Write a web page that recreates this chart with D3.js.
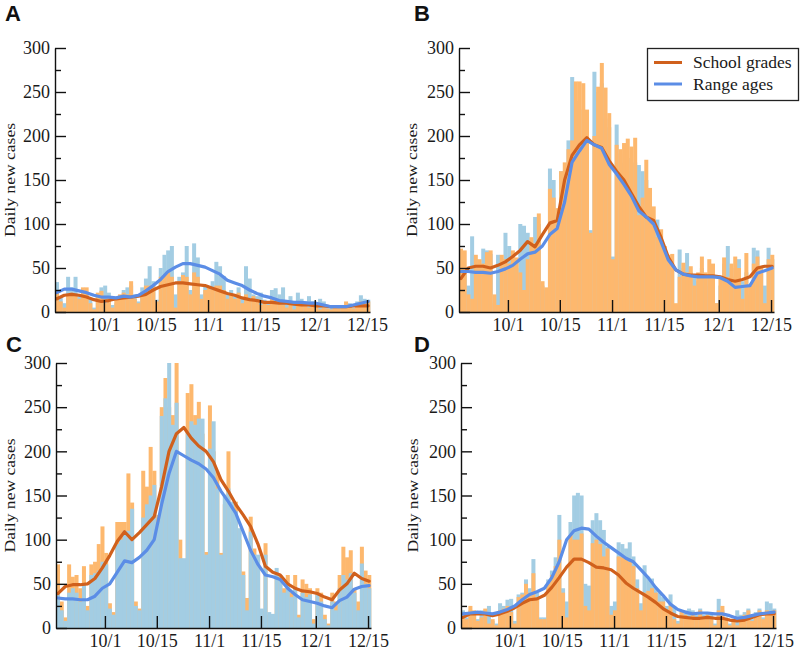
<!DOCTYPE html>
<html><head><meta charset="utf-8">
<script src="https://cdn.jsdelivr.net/npm/d3@7"></script>
<style>body{margin:0;background:#fff}</style>
</head><body><svg id="c" width="800" height="654"></svg>
<script>
// ---------- DATA ----------
const days = d3.range(85);            // daily index, 9/18 .. 12/11
const lineDays = d3.range(0, 85, 2);  // sampled days of the smoothed curves
const xTickDays = [13.2, 27.2, 41.3, 55.3, 70.1, 84.2];
const xTickLabels = ["10/1", "10/15", "11/1", "11/15", "12/1", "12/15"];
const yTicks = [0, 50, 100, 150, 200, 250, 300];
const yMinorTicks = [25, 75, 125, 175, 225, 275];
const seriesNames = ["School grades", "Range ages"];
const panelLetters = ["A", "B", "C", "D"];

// Panel A
const schoolA = [25,12,5,20,22,20,15,28,28,10, 3,22,24,10,18,5,15,20,22,20, 35,15,10,20,30,30,30,12,40,42, 45,40,5,35,42,40,20,45,40,15, 25,28,25,30,30,25,15,20,15,22, 10,20,15,18,12,8,10,8,15,12, 10,8,5,10,3,8,10,8,5,10, 8,3,5,4,3,5,4,6,12,8, 4,10,12,10,12];
const rangeA  = [34,18,10,40,28,40,20,25,22,15, 5,20,28,30,22,8,10,18,25,28, 30,20,12,28,38,52,35,14,50,65, 70,75,20,40,45,75,25,78,62,20, 30,22,35,57,52,41,20,25,18,28, 15,52,38,20,18,22,14,10,25,27, 20,28,12,18,8,22,15,12,18,12, 10,15,12,6,5,6,6,8,8,10, 5,12,19,15,14];
const schoolLineA = [15,19,20,19,17,14,12,13,15,16,17,18,20,25,29,31,33,33,32,31,30,27,24,21,19,16,14,13,11,11,10,10,9,8,8,7,7,6,6,6,7,7,7];
const rangeLineA  = [22,26,26,24,22,19,17,17,16,18,17,19,24,30,37,46,51,55,55,53,51,47,43,36,33,30,25,21,18,16,13,12,11,11,10,10,8,6,6,6,8,10,12];

// Panel B
const schoolB = [72,70,20,15,65,60,55,68,70,20, 8,65,60,55,70,62,45,25,60,85, 78,112,35,28,140,130,118,160,170,185, 195,262,262,260,230,90,200,256,283,255, 226,60,190,185,192,197,188,198,110,130, 173,141,120,85,94,75,65,66,10,40, 56,45,52,30,45,63,45,60,55,10, 40,62,40,55,63,50,15,67,30,55, 63,50,10,60,65];
const rangeB  = [50,45,30,86,60,55,72,70,66,10, 65,60,90,75,60,50,100,98,90,75, 108,100,30,25,163,150,110,160,160,195, 267,240,230,200,210,93,273,250,260,220, 210,63,213,180,170,175,160,170,167,160, 150,125,105,105,80,70,55,50,8,71, 50,67,45,40,35,50,30,40,45,10, 30,55,75,50,40,60,35,45,20,73, 70,45,30,73,60];
const schoolLineB = [38,50,52,52,50,53,57,63,70,80,74,88,101,104,150,178,190,198,190,187,172,160,150,135,120,108,104,85,62,48,43,42,42,41,41,40,37,35,37,40,50,52,52];
const rangeLineB  = [46,46,45,45,44,46,49,53,60,66,68,75,88,95,125,170,183,195,190,186,168,157,145,132,115,108,100,80,59,48,43,41,40,40,40,39,35,28,29,30,44,47,50];

// Panel C
const schoolC = [72,30,12,72,58,60,45,70,25,72, 75,95,115,85,28,18,120,120,120,175, 142,30,22,178,160,205,178,128,250,283, 250,241,300,100,75,266,276,241,256,220, 86,252,200,177,85,140,200,120,143,100, 64,34,126,90,80,20,96,15,12,60, 60,45,60,40,60,15,55,50,45,10, 45,40,15,5,40,30,60,92,80,88, 45,30,92,65,60];
const rangeC  = [38,20,8,40,45,40,30,50,20,60, 62,65,75,72,22,15,95,100,110,110, 135,25,20,125,140,150,162,120,240,260, 300,230,255,79,79,222,234,230,237,237, 83,203,234,158,83,151,158,143,132,113, 60,20,109,83,83,22,83,18,16,68, 55,40,50,35,45,12,40,35,38,5, 38,30,10,3,30,20,45,60,55,62, 40,20,73,50,45];
const schoolLineC = [39,47,49,49,50,56,68,82,98,109,100,108,117,126,160,200,220,227,215,206,200,188,168,155,140,128,115,95,70,63,60,50,45,42,41,39,35,32,43,50,62,56,53];
const rangeLineC  = [34,33,33,32,32,36,45,50,63,76,74,80,88,100,140,175,200,195,190,186,180,170,155,143,130,109,88,72,60,58,55,45,38,32,30,28,25,23,31,35,44,47,48];

// Panel D
const schoolD = [12,10,25,20,8,12,22,5,10,3, 20,22,25,18,5,35,38,50,40,62, 35,10,10,50,60,70,100,40,12,105, 100,100,107,25,20,96,100,95,81,90, 15,20,81,80,78,75,70,45,20,40, 42,45,40,30,30,20,25,10,5,20, 15,12,18,10,20,12,15,12,3,20, 25,10,3,8,3,12,15,20,8,15, 20,10,20,18,20];
const rangeD  = [20,12,20,18,10,20,20,25,8,5, 28,25,32,33,8,38,40,55,45,78, 40,12,12,55,65,80,128,45,30,120, 150,153,150,50,48,122,130,122,111,92, 25,30,97,95,90,97,81,55,28,71, 58,56,45,40,35,25,38,25,8,18, 20,22,20,15,22,15,18,15,5,33, 20,12,5,10,20,15,18,22,10,18, 22,12,30,28,22];
const schoolLineD = [12,16,16,16,14,16,19,23,28,32,33,37,46,57,69,78,78,74,69,68,66,60,51,45,40,35,29,22,17,13,12,11,11,12,11,11,9,8,9,12,15,16,16];
const rangeLineD  = [16,17,18,17,16,18,21,25,32,38,41,45,57,75,100,110,113,112,104,97,91,85,79,75,66,57,46,37,27,21,18,16,17,17,16,16,14,11,12,14,16,17,18];

// ---------- STYLE / LAYOUT ----------
const C = {
  schoolBar: "#fdb86e", rangeBar: "#a3cde3",
  schoolLine: "#d0601c", rangeLine: "#5b8de6"
};
const serif = "'Liberation Serif','Times New Roman',serif";
const panels = [
  {letter: panelLetters[0], school: schoolA, range: rangeA, sLine: schoolLineA, rLine: rangeLineA, left: 55,  top: 48,  bottom: 312, front: "school", titleX: 14.5, lx: 5,   ly: 21},
  {letter: panelLetters[1], school: schoolB, range: rangeB, sLine: schoolLineB, rLine: rangeLineB, left: 459, top: 48,  bottom: 312, front: "school", titleX: 417,  lx: 414, ly: 21, legend: true},
  {letter: panelLetters[2], school: schoolC, range: rangeC, sLine: schoolLineC, rLine: rangeLineC, left: 56,  top: 363, bottom: 628, front: "range",  titleX: 14.5, lx: 6,   ly: 352},
  {letter: panelLetters[3], school: schoolD, range: rangeD, sLine: schoolLineD, rLine: rangeLineD, left: 461, top: 363, bottom: 628, front: "school", titleX: 418,  lx: 414, ly: 352}
];
const plotW = 315;

const svg = d3.select("#c");
svg.append("rect").attr("width", 800).attr("height", 654).attr("fill", "#fff");

panels.forEach(p => {
  const g = svg.append("g");
  const x = d3.scaleLinear().domain([0, 85]).range([p.left, p.left + plotW]);
  const y = d3.scaleLinear().domain([0, 300]).range([p.bottom, p.top]);

  const order = p.front === "school"
    ? [{v: p.range, c: C.rangeBar}, {v: p.school, c: C.schoolBar}]
    : [{v: p.school, c: C.schoolBar}, {v: p.range, c: C.rangeBar}];
  order.forEach(s => {
    g.append("g").selectAll("rect").data(days).join("rect")
      .attr("x", d => x(d))
      .attr("width", d => x(d + 1) - x(d) + 0.3)
      .attr("y", d => y(s.v[d]))
      .attr("height", d => y(0) - y(s.v[d]))
      .attr("fill", s.c);
  });

  [{v: p.sLine, c: C.schoolLine}, {v: p.rLine, c: C.rangeLine}].forEach(s => {
    const ln = d3.line().x(d => x(d + 0.5)).y((d, i) => y(s.v[i]));
    g.append("path").attr("d", ln(lineDays))
      .attr("fill", "none").attr("stroke", s.c).attr("stroke-width", 3.2)
      .attr("stroke-linejoin", "round").attr("stroke-linecap", "round");
  });

  // y axis
  g.append("g").attr("transform", `translate(${p.left},0)`)
    .call(d3.axisLeft(y).tickValues(yTicks).tickSize(-11).tickSizeOuter(0).tickPadding(5));
  g.append("g").attr("transform", `translate(${p.left},0)`)
    .call(d3.axisLeft(y).tickValues(yMinorTicks).tickSize(-6).tickFormat("")).select(".domain").remove();
  // x axis
  g.append("g").attr("transform", `translate(0,${p.bottom})`)
    .call(d3.axisBottom(x).tickValues(xTickDays).tickFormat((d, i) => xTickLabels[i])
      .tickSize(-12).tickSizeOuter(0).tickPadding(6));
  g.selectAll(".domain, .tick line").attr("stroke", "#111").attr("stroke-width", 1.4);
  g.selectAll(".tick text").attr("font-family", serif).attr("font-size", 18).attr("fill", "#1a1a1a");

  // y title
  g.append("text")
    .attr("transform", `translate(${p.titleX},${(p.top + p.bottom) / 2}) rotate(-90)`)
    .attr("text-anchor", "middle").attr("font-family", serif).attr("font-size", 14.5)
    .attr("textLength", 114).attr("lengthAdjust", "spacingAndGlyphs")
    .attr("fill", "#1a1a1a").text("Daily new cases");

  // panel letter
  svg.append("text").attr("x", p.lx).attr("y", p.ly)
    .attr("font-family", "'Liberation Sans',Arial,sans-serif").attr("font-weight", "bold")
    .attr("font-size", 22).attr("fill", "#111").text(p.letter);

  if (p.legend) {
    const lg = svg.append("g");
    lg.append("rect").attr("x", 647.5).attr("y", 48.5).attr("width", 151).attr("height", 52)
      .attr("fill", "#fff").attr("stroke", "#222").attr("stroke-width", 1.3);
    [C.schoolLine, C.rangeLine].forEach((c, i) => {
      const yy = 62.5 + i * 21.5;
      lg.append("line").attr("x1", 654).attr("x2", 682).attr("y1", yy).attr("y2", yy)
        .attr("stroke", c).attr("stroke-width", 3);
      lg.append("text").attr("x", 693).attr("y", yy + 5.5)
        .attr("font-family", serif).attr("font-size", 17.5).attr("fill", "#1a1a1a").text(seriesNames[i]);
    });
  }
});
</script></body></html>
